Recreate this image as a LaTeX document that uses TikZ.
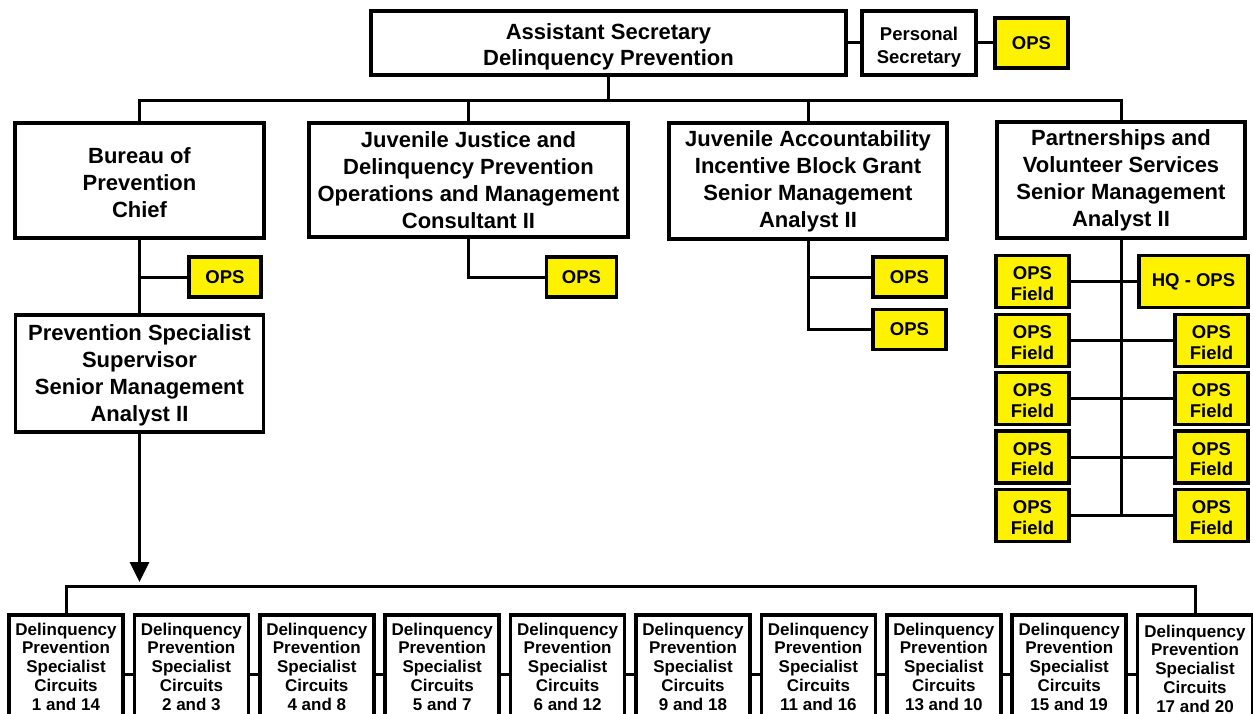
\documentclass[tikz,border=0pt]{standalone}
\usepackage{fontspec}
\setmainfont{Liberation Sans}
\usetikzlibrary{arrows.meta}
\newcommand{\dropby}[1]{\rule{0pt}{#1}}
\begin{document}
\begin{tikzpicture}[x=1pt,y=-1pt,
  box/.style={draw=black, line width=3.5pt, fill=white, inner sep=0pt, align=center, font=\bfseries\fontsize{22}{27}\selectfont},
  ops/.style={box, fill=yellow, font=\bfseries\fontsize{18.5}{20.5}\selectfont},
  cbox/.style={draw=black, line width=3.5pt, fill=white, inner sep=0pt, anchor=north, minimum width=114pt, minimum height=120pt},
  ctext/.style={align=center, inner sep=0pt, font=\bfseries\fontsize{17}{18.75}\selectfont},
  conn/.style={draw=black, line width=3pt}]
\useasboundingbox (0,0) rectangle (1253,714);
\clip (0,0) rectangle (1253,714);

% top row
\node[box, minimum width=475pt, minimum height=64pt] (asst) at (608.5,43) {\dropby{24pt}Assistant Secretary\\[-1pt]Delinquency Prevention};
\node[box, minimum width=114pt, minimum height=64pt, font=\bfseries\fontsize{18.5}{23}\selectfont] (persec) at (919,43) {\dropby{21pt}Personal\\Secretary};
\node[ops, minimum width=73pt, minimum height=50pt] (opstop) at (1031.5,43) {OPS};

% second row
\node[box, minimum width=249pt, minimum height=115pt] (bur) at (139.5,180.5) {\dropby{20pt}Bureau of\\Prevention\\Chief};
\node[box, minimum width=319pt, minimum height=114pt] (jj) at (468.5,180) {Juvenile Justice and\\Delinquency Prevention\\Operations and Management\\Consultant II};
\node[box, minimum width=278pt, minimum height=116pt] (ja) at (808,181) {Juvenile Accountability\\Incentive Block Grant\\Senior Management\\Analyst II};
\node[box, minimum width=248pt, minimum height=116pt] (pvs) at (1121,180) {Partnerships and\\Volunteer Services\\Senior Management\\Analyst II};

% OPS below second row
\node[ops, minimum width=72pt, minimum height=40pt] (bops) at (225,277) {OPS};
\node[ops, minimum width=70pt, minimum height=40pt] (jjops) at (581.5,277) {OPS};
\node[ops, minimum width=73pt, minimum height=40pt] (jops1) at (909.5,277) {OPS};
\node[ops, minimum width=73pt, minimum height=40pt] (jops2) at (909.5,329.5) {OPS};

% supervisor
\node[box, minimum width=248pt, minimum height=117pt] (spv) at (139.5,373.5) {\dropby{20pt}Prevention Specialist\\Supervisor\\Senior Management\\Analyst II};

% partnerships grid
\foreach \k/\yy in {1/281.5,2/340.5,3/398.5,4/457,5/515.5} {
  \node[ops, minimum width=73pt, minimum height=52pt] (g\k) at (1032.5,\yy) {\dropby{17pt}OPS\\Field};
}
\node[ops, minimum width=109pt, minimum height=52pt] (hq) at (1193.5,281.5) {HQ - OPS};
\foreach \k/\yy in {2/340.5,3/398.5,4/457,5/515.5} {
  \node[ops, minimum width=73pt, minimum height=52pt] (r\k) at (1211.5,\yy) {\dropby{17pt}OPS\\Field};
}

% circuit boxes
\foreach \t [count=\k] in {1 and 14,2 and 3,4 and 8,5 and 7,6 and 12,9 and 18,11 and 16,13 and 10,15 and 19} {
  \node[cbox] (c\k) at ({66+125.4*(\k-1)},613) {};
  \node[ctext] (c\k t) at ({66+125.4*(\k-1)},666.5) {Delinquency\\Prevention\\Specialist\\Circuits\\\t};
}
\node[cbox, minimum width=115pt] (c10) at (1195,613) {};
\node[ctext] (c10t) at (1195,668.5) {Delinquency\\Prevention\\Specialist\\Circuits\\17 and 20};

% connectors
\coordinate (busy) at (0,101);
\coordinate (bby) at (0,586);
\coordinate (cy) at (0,674);
\coordinate (arrowend) at (0,582);

\draw[conn] (asst.east) -- (persec.west);
\draw[conn] (persec.east) -- (opstop.west);
\draw[conn] (asst.south) -- (asst.south |- busy);
\draw[conn] (bur.north) -- (bur.north |- busy) -- (pvs.north |- busy) -- (pvs.north);
\draw[conn] (jj.north) -- (jj.north |- busy);
\draw[conn] (ja.north) -- (ja.north |- busy);

\draw[conn] (bur.south) -- (spv.north);
\draw[conn] (bur.south |- bops.west) -- (bops.west);
\draw[conn] (jj.south) |- (jjops.west);
\draw[conn] (ja.south) |- (jops2.west);
\draw[conn] (ja.south |- jops1.west) -- (jops1.west);

\draw[conn] (pvs.south) -- (pvs.south |- g5.east);
\draw[conn] (g1.east) -- (hq.west);
\foreach \k in {2,3,4,5} { \draw[conn] (g\k.east) -- (r\k.west); }

\draw[conn, -{Triangle[length=20pt,width=19pt]}] (spv.south) -- (spv.south |- arrowend);
\draw[conn] (c1.north) -- (c1.north |- bby) -- (c10.north |- bby) -- (c10.north);
\foreach \a/\b in {1/2,2/3,3/4,4/5,5/6,6/7,7/8,8/9,9/10} {
  \draw[conn] (c\a.east |- cy) -- (c\b.west |- cy);
}
\end{tikzpicture}
\end{document}
